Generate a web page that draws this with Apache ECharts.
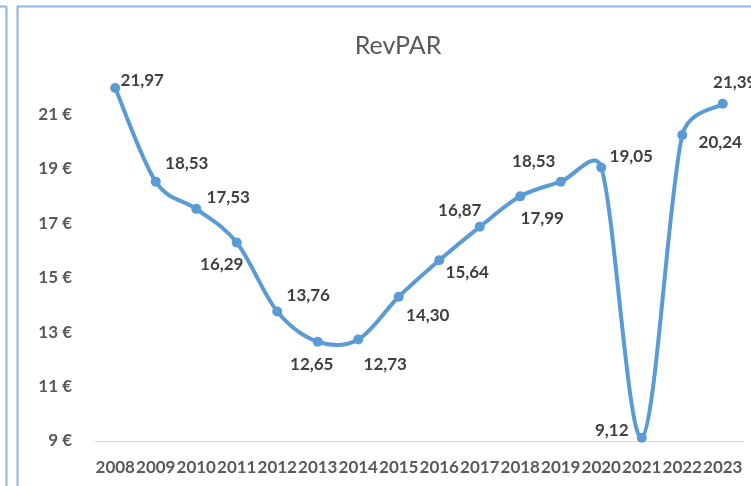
<!DOCTYPE html>
<html>
<head>
<meta charset="utf-8">
<script src="https://cdn.jsdelivr.net/npm/echarts@6/dist/echarts.min.js"></script>
<style>
  html, body { margin: 0; padding: 0; background: #fff; }
  #chart { width: 751px; height: 486px; }
</style>
</head>
<body>
<div id="chart"></div>
<script>
  const years = ['2008', '2009', '2010', '2011', '2012', '2013', '2014', '2015',
    '2016', '2017', '2018', '2019', '2020', '2021', '2022', '2023'];
  const revpar = [21.97, 18.53, 17.53, 16.29, 13.76, 12.65, 12.73, 14.30,
    15.64, 16.87, 17.99, 18.53, 19.05, 9.12, 20.24, 21.39];

  // where each value label sits, relative to its point (dx, dy in px)
  const labelOffsets = [
    [27, -8], [31, -18], [32, -11], [-15, 22], [31, -16], [-6, 23], [27, 25], [29, 19],
    [28, 12], [-20, -16], [22, 22], [-27, -20], [30, -11], [-30, -7], [38, 7], [12, -21]
  ];

  const fmt = v => v.toFixed(2).replace('.', ',');
  const dist = (a, b) => Math.hypot(b[0] - a[0], b[1] - a[1]);

  // spreadsheet style smoothed line: cubic bezier, tangent 1/6 of the
  // neighbour chord, shortened when it would be longer than half the segment
  function renderSmooth(params, api) {
    if (params.dataIndex !== 0) return null;
    const pts = revpar.map((v, i) => api.coord([i, v]));
    const children = [];
    for (let i = 0; i < pts.length - 1; i++) {
      const p0 = pts[Math.max(i - 1, 0)];
      const p1 = pts[i];
      const p2 = pts[i + 1];
      const p3 = pts[Math.min(i + 2, pts.length - 1)];
      const d12 = dist(p1, p2), d02 = dist(p0, p2), d13 = dist(p1, p3);
      const f0 = d02 / 6 < d12 / 2 ? 1 / 6 : d12 / d02 / 2;
      const f3 = d13 / 6 < d12 / 2 ? 1 / 6 : d12 / d13 / 2;
      children.push({
        type: 'bezierCurve',
        shape: {
          x1: p1[0], y1: p1[1], x2: p2[0], y2: p2[1],
          cpx1: p1[0] + (p2[0] - p0[0]) * f0,
          cpy1: p1[1] + (p2[1] - p0[1]) * f0,
          cpx2: p2[0] - (p3[0] - p1[0]) * f3,
          cpy2: p2[1] - (p3[1] - p1[1]) * f3
        },
        style: { fill: null, stroke: '#5B9BD5', lineWidth: 4, lineCap: 'round' }
      });
    }
    return { type: 'group', children };
  }

  const chart = echarts.init(document.getElementById('chart'));
  chart.setOption({
    backgroundColor: '#fff',
    animation: false,
    title: {
      text: 'RevPAR',
      left: 393,
      top: 28,
      textAlign: 'center',
      textStyle: {
        fontFamily: 'Lato',
        fontSize: 25,
        fontWeight: 'normal',
        color: '#595959'
      }
    },
    grid: {
      left: 95,
      right: 8,
      top: 60,
      bottom: 45
    },
    xAxis: {
      type: 'category',
      data: years,
      boundaryGap: true,
      axisLine: { lineStyle: { color: '#D9D9D9', width: 1 } },
      axisTick: { show: false },
      axisLabel: {
        margin: 18,
        interval: 0,
        fontFamily: 'Lato',
        fontSize: 17,
        fontWeight: 'bold',
        color: '#595959'
      }
    },
    yAxis: {
      type: 'value',
      min: 9,
      max: 23,
      interval: 2,
      splitLine: { show: false },
      axisLine: { show: false },
      axisTick: { show: false },
      axisLabel: {
        margin: 23,
        fontFamily: 'Lato',
        fontSize: 17,
        fontWeight: 'bold',
        color: '#595959',
        formatter: v => (v >= 23 ? '' : v + ' €')
      }
    },
    series: [
      {
        type: 'custom',
        data: revpar.map((v, i) => [i, v]),
        encode: { x: 0, y: 1 },
        renderItem: renderSmooth,
        silent: true,
        z: 2
      },
      {
        type: 'line',
        data: revpar.map((v, i) => ({
          value: v,
          label: { offset: labelOffsets[i] }
        })),
        symbol: 'circle',
        symbolSize: 10,
        lineStyle: { opacity: 0 },
        itemStyle: { color: '#5B9BD5' },
        z: 3,
        label: {
          show: true,
          position: 'inside',
          align: 'center',
          verticalAlign: 'middle',
          fontFamily: 'Lato',
          fontSize: 17,
          fontWeight: 'bold',
          color: '#404040',
          formatter: p => fmt(p.value)
        }
      }
    ],
    graphic: [
      // frame of the neighbouring chart on the left
      { type: 'line', shape: { x1: 6.5, y1: 6.5, x2: 6.5, y2: 486 }, style: { stroke: '#8DB3E2', lineWidth: 2 } },
      { type: 'line', shape: { x1: 0, y1: 6.5, x2: 6.5, y2: 6.5 }, style: { stroke: '#8DB3E2', lineWidth: 2 } },
      // frame of this chart
      { type: 'rect', shape: { x: 17.5, y: 6.5, width: 800, height: 600 }, style: { fill: 'none', stroke: '#8DB3E2', lineWidth: 2 }, z: -1 }
    ]
  });
</script>
</body>
</html>
